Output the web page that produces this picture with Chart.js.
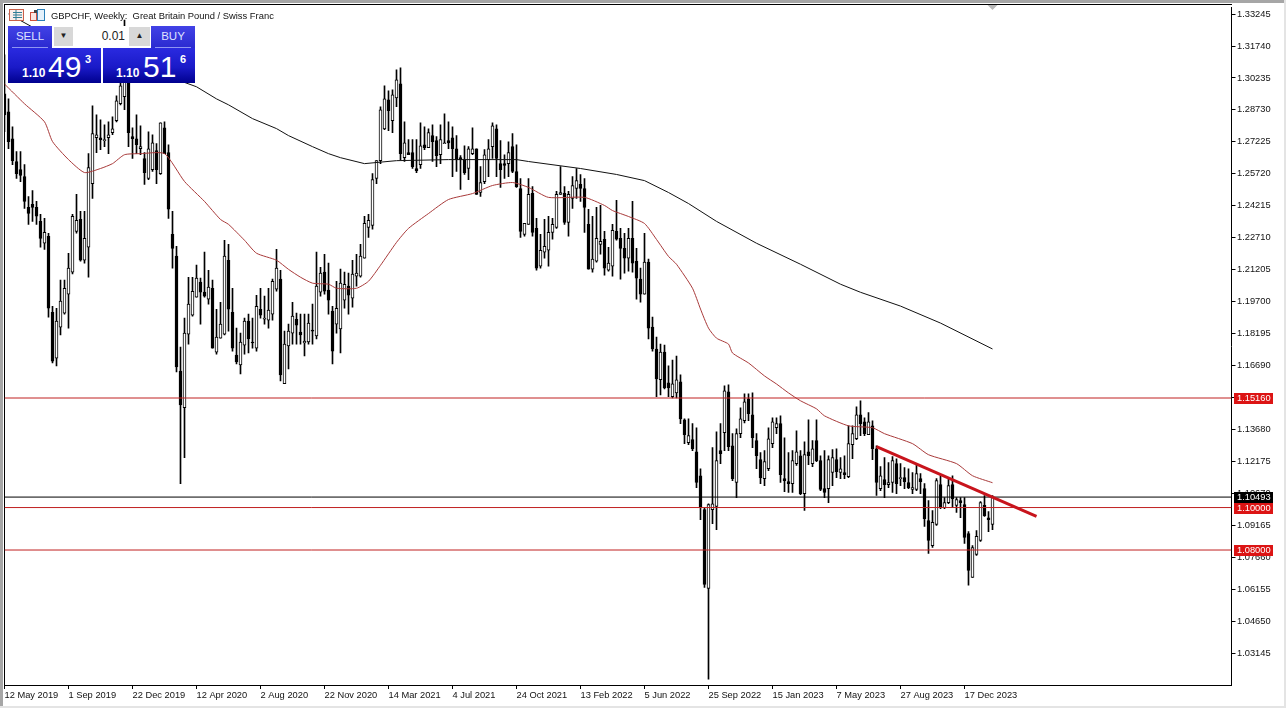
<!DOCTYPE html>
<html><head><meta charset="utf-8">
<script src="https://cdn.jsdelivr.net/npm/chart.js@4"></script>
<style>
html,body{margin:0;padding:0;background:#fff;overflow:hidden}
#wrap{position:relative;width:1286px;height:708px;font-family:"Liberation Sans",sans-serif}
canvas{position:absolute;left:0;top:0}
.a{position:absolute;white-space:pre;line-height:1}
.tb{background:linear-gradient(#4242e6,#2a2ad0);color:#dfe2ff}
.pb{background:linear-gradient(#2a2ae0 0%,#1a1ac8 55%,#00008e 100%);color:#fff}
</style></head><body>
<div id="wrap">
<canvas id="c" width="1286" height="708"></canvas>
<svg class="a" style="left:9px;top:9px" width="38" height="13" viewBox="0 0 38 13">
<rect x="0.5" y="0.5" width="14" height="11" fill="#fbeeea" stroke="#c8604a"/>
<path d="M4 3.5H13M4 6H13M4 8.5H13M7 1V11" stroke="#2e7f96" stroke-width="1"/>
<rect x="21.5" y="3.5" width="6" height="8" fill="#fbe5e0" stroke="#d0503c"/>
<rect x="28.5" y="0.5" width="7" height="11" fill="#e4f1fb" stroke="#2b7fb8"/>
<rect x="25" y="1" width="3" height="3" fill="#444"/>
</svg>
<div class="a" id="title" style="left:51px;top:10.5px;font-size:9.4px;color:#111">GBPCHF, Weekly:  Great Britain Pound / Swiss Franc</div>

<div class="a" style="left:8px;top:26px;width:187px;height:57px;background:#fff"></div>
<div class="a tb" style="left:8px;top:26px;width:44px;height:22px;text-align:center;line-height:21px;font-size:11.5px">SELL</div>
<div class="a tb" style="left:151px;top:26px;width:44px;height:22px;text-align:center;line-height:21px;font-size:11.5px">BUY</div>
<div class="a" style="left:12px;top:47px;width:36px;height:1px;background:#8f95f2"></div>
<div class="a" style="left:155px;top:47px;width:36px;height:1px;background:#8f95f2"></div>
<div class="a" style="left:54px;top:27px;width:19px;height:19px;background:#d8d8d8;color:#222;font-size:8px;text-align:center;line-height:18px">▼</div>
<div class="a" style="left:129px;top:27px;width:21px;height:19px;background:#d8d8d8;color:#222;font-size:8px;text-align:center;line-height:18px">▲</div>
<div class="a" style="left:73px;top:27px;width:52px;height:19px;text-align:right;line-height:19px;font-size:12px;color:#222">0.01</div>
<div class="a pb" style="left:8px;top:48px;width:93px;height:35px"></div>
<div class="a pb" style="left:103px;top:48px;width:92px;height:35px"></div>
<div class="a" style="left:22px;top:67px;font-size:12px;font-weight:bold;color:#fff">1.10</div>
<div class="a" style="left:48px;top:52px;font-size:30px;color:#fff">49</div>
<div class="a" style="left:85px;top:54px;font-size:11px;font-weight:bold;color:#fff">3</div>
<div class="a" style="left:116px;top:67px;font-size:12px;font-weight:bold;color:#fff">1.10</div>
<div class="a" style="left:143px;top:52px;font-size:30px;color:#fff">51</div>
<div class="a" style="left:180px;top:54px;font-size:11px;font-weight:bold;color:#fff">6</div>
</div>
<script>
const dateLabels=["12 May 2019","1 Sep 2019","22 Dec 2019","12 Apr 2020","2 Aug 2020","22 Nov 2020","14 Mar 2021","4 Jul 2021","24 Oct 2021","13 Feb 2022","5 Jun 2022","25 Sep 2022","15 Jan 2023","7 May 2023","27 Aug 2023","17 Dec 2023"];
const dateTickEvery=16;
const priceTicks=[1.33245,1.31740,1.30235,1.28730,1.27225,1.25720,1.24215,1.22710,1.21205,1.19700,1.18195,1.16690,1.15185,1.13680,1.12175,1.10670,1.09165,1.07660,1.06155,1.04650,1.03145];
const levels=[1.15160,1.10000,1.08000];
const currentPrice=1.10493;
const bullish=[0,0,0,0,0,0,0,0,0,0,
1,0,0,1,1,1,1,1,1,0,
1,1,1,1,0,1,1,1,1,1,
1,0,0,0,1,0,1,1,0,1,
0,0,0,0,0,1,1,1,1,0,
0,1,0,1,1,1,0,0,0,1,
1,0,0,1,0,1,1,1,1,0,
1,1,1,0,0,1,1,0,1,1,
0,0,0,1,1,1,0,1,1,1,
1,1,1,1,1,1,0,1,1,0,
1,0,0,0,1,0,1,0,0,1,
1,0,0,0,0,0,1,1,0,1,
1,1,1,0,0,0,1,0,0,0,
1,1,0,0,1,1,1,1,1,1,
0,1,1,1,0,0,0,1,1,1,
0,1,1,0,0,0,1,0,0,0,
1,0,0,0,1,0,0,1,1,0,
0,1,0,0,0,0,1,1,1,0,
1,0,0,1,1,1,0,0,0,0,
1,1,1,1,0,0,0,1,1,0,
1,0,1,0,0,0,1,1,0,1,
0,1,1,1,0,0,1,0,0,1,
0,1,1,0,1,0,0,1,1,0,
0,0,1,1,0,1,1,0,1,0,
0,0,1,1,1,0,0,1];
const highs=[1.3132,1.2925,1.2793,1.2677,1.2677,1.2615,1.2465,1.2493,1.2442,1.2381,
1.2362,1.2292,1.1948,1.1939,1.2071,1.2071,1.2198,1.2381,1.2475,1.2395,
1.2395,1.2667,1.2892,1.2850,1.2826,1.2803,1.2817,1.2841,1.2939,1.3005,
1.3296,1.3099,1.2789,1.2850,1.2798,1.2672,1.2770,1.2756,1.2714,1.2812,
1.2817,1.2709,1.2395,1.2231,1.1756,1.1892,1.2085,1.2085,1.2142,1.2081,
1.2203,1.2118,1.2071,1.1934,1.1967,1.2259,1.2240,1.2033,1.1845,1.1822,
1.1892,1.1911,1.1892,1.2000,1.2033,1.1996,1.2033,1.2076,1.2216,1.2118,
1.1831,1.1864,1.1967,1.1916,1.1911,1.1911,1.1911,1.1958,1.2203,1.2132,
1.2193,1.2151,1.1948,1.2066,1.2123,1.2109,1.2104,1.2165,1.2193,1.2240,
1.2372,1.2381,1.2573,1.2634,1.2888,1.2986,1.2963,1.2968,1.3062,1.3071,
1.2817,1.2733,1.2733,1.2733,1.2812,1.2793,1.2784,1.2803,1.2747,1.2803,
1.2855,1.2817,1.2793,1.2752,1.2658,1.2704,1.2700,1.2789,1.2690,1.2606,
1.2686,1.2733,1.2812,1.2803,1.2728,1.2662,1.2723,1.2761,1.2709,1.2550,
1.2339,1.2550,1.2512,1.2362,1.2287,1.2358,1.2372,1.2362,1.2489,1.2606,
1.2512,1.2489,1.2559,1.2597,1.2569,1.2550,1.2405,1.2372,1.2414,1.2423,
1.2301,1.2226,1.2334,1.2447,1.2315,1.2292,1.2315,1.2442,1.2221,1.2128,
1.2292,1.2170,1.1897,1.1803,1.1770,1.1765,1.1667,1.1695,1.1714,1.1625,
1.1418,1.1418,1.1395,1.1376,1.1183,1.0999,1.1018,1.1282,1.1357,1.1395,
1.1573,1.1578,1.1348,1.1371,1.1470,1.1536,1.1536,1.1540,1.1348,1.1259,
1.1268,1.1376,1.1423,1.1423,1.1432,1.1329,1.1259,1.1268,1.1362,1.1268,
1.1310,1.1413,1.1315,1.1413,1.1244,1.1268,1.1244,1.1273,1.1277,1.1235,
1.1244,1.1385,1.1385,1.1475,1.1503,1.1423,1.1447,1.1409,1.1291,1.1193,
1.1235,1.1212,1.1240,1.1230,1.1207,1.1188,1.1183,1.1165,1.1207,1.1160,
1.1113,1.1033,1.0986,1.1136,1.1150,1.1047,1.1141,1.1150,1.1047,1.1047,
1.1047,1.0887,1.0821,1.0892,1.1028,1.1057,1.0981,1.1057];
const bodyTops=[1.2949,1.2864,1.2737,1.2630,1.2592,1.2559,1.2414,1.2428,1.2414,1.2348,
1.2296,1.2278,1.1920,1.1878,1.1972,1.2033,1.2128,1.2372,1.2353,1.2358,
1.2268,1.2601,1.2761,1.2756,1.2742,1.2733,1.2756,1.2784,1.2916,1.2986,
1.3099,1.3005,1.2747,1.2737,1.2700,1.2644,1.2690,1.2718,1.2681,1.2812,
1.2789,1.2672,1.2287,1.2184,1.1643,1.1822,1.1958,1.2019,1.2081,1.2062,
1.2015,1.2038,1.2033,1.1803,1.1864,1.2184,1.2165,1.1920,1.1718,1.1780,
1.1878,1.1878,1.1780,1.1948,1.1934,1.1892,1.1930,1.2066,1.2128,1.2076,
1.1770,1.1831,1.1902,1.1887,1.1827,1.1784,1.1869,1.1836,1.2043,1.2104,
1.2109,1.2024,1.1925,1.1939,1.2057,1.2052,1.2043,1.2100,1.2104,1.2184,
1.2339,1.2353,1.2545,1.2634,1.2874,1.2925,1.2921,1.2944,1.3015,1.2996,
1.2718,1.2672,1.2672,1.2597,1.2704,1.2709,1.2766,1.2752,1.2728,1.2733,
1.2718,1.2728,1.2742,1.2690,1.2648,1.2639,1.2690,1.2690,1.2690,1.2531,
1.2662,1.2690,1.2798,1.2784,1.2620,1.2620,1.2672,1.2700,1.2583,1.2503,
1.2339,1.2475,1.2480,1.2315,1.2212,1.2231,1.2296,1.2334,1.2475,1.2484,
1.2480,1.2475,1.2517,1.2540,1.2522,1.2503,1.2334,1.2170,1.2268,1.2254,
1.2264,1.2151,1.2306,1.2301,1.2268,1.2221,1.2268,1.2268,1.2160,1.2076,
1.2156,1.2156,1.1850,1.1747,1.1732,1.1732,1.1587,1.1583,1.1602,1.1592,
1.1413,1.1339,1.1320,1.1263,1.1150,1.0990,1.1014,1.1018,1.1221,1.1268,
1.1550,1.1545,1.1291,1.1348,1.1418,1.1498,1.1512,1.1437,1.1315,1.1226,
1.1216,1.1324,1.1404,1.1395,1.1395,1.1136,1.1122,1.1221,1.1263,1.1244,
1.1249,1.1263,1.1277,1.1315,1.1221,1.1089,1.1226,1.1235,1.1226,1.1183,
1.1165,1.1301,1.1348,1.1437,1.1437,1.1404,1.1404,1.1385,1.1277,1.1150,
1.1132,1.1118,1.1221,1.1207,1.1141,1.1141,1.1118,1.1094,1.1160,1.1136,
1.1089,1.0939,1.0930,1.1127,1.1108,1.1023,1.1103,1.1108,1.1038,1.1033,
1.1014,1.0878,1.0812,1.0864,1.1023,1.1010,1.0952,1.1049];
const bodyBottoms=[1.2850,1.2723,1.2634,1.2573,1.2564,1.2442,1.2386,1.2414,1.2372,1.2268,
1.2245,1.1939,1.1690,1.1704,1.1850,1.1916,1.2005,1.2109,1.2301,1.2165,
1.2165,1.2226,1.2526,1.2742,1.2733,1.2728,1.2742,1.2766,1.2822,1.2902,
1.2935,1.2766,1.2737,1.2709,1.2690,1.2578,1.2550,1.2592,1.2592,1.2573,
1.2667,1.2405,1.2221,1.1662,1.1484,1.1470,1.1817,1.1906,1.1991,1.2015,
1.1996,1.1981,1.1751,1.1732,1.1798,1.1817,1.1934,1.1751,1.1686,1.1672,
1.1765,1.1794,1.1775,1.1751,1.1906,1.1887,1.1883,1.1911,1.2029,1.1625,
1.1583,1.1761,1.1822,1.1859,1.1813,1.1775,1.1780,1.1831,1.1808,1.2015,
1.2019,1.1977,1.1737,1.1864,1.1841,1.1977,1.2000,1.1986,1.2090,1.2090,
1.2175,1.2320,1.2329,1.2550,1.2634,1.2784,1.2869,1.2822,1.2930,1.2667,
1.2648,1.2662,1.2606,1.2587,1.2615,1.2695,1.2695,1.2723,1.2658,1.2662,
1.2714,1.2718,1.2690,1.2639,1.2639,1.2578,1.2597,1.2667,1.2475,1.2484,
1.2535,1.2639,1.2700,1.2644,1.2592,1.2611,1.2620,1.2583,1.2512,1.2301,
1.2287,1.2334,1.2296,1.2128,1.2137,1.2203,1.2212,1.2296,1.2320,1.2475,
1.2343,1.2343,1.2456,1.2503,1.2503,1.2414,1.2123,1.2123,1.2160,1.2240,
1.2128,1.2118,1.2137,1.2264,1.2221,1.2175,1.2175,1.2151,1.2081,1.2005,
1.2005,1.1845,1.1747,1.1606,1.1602,1.1564,1.1564,1.1522,1.1540,1.1418,
1.1343,1.1306,1.1277,1.1118,1.0999,1.0638,1.0619,1.0990,1.1005,1.1254,
1.1353,1.1287,1.1136,1.1118,1.1348,1.1409,1.1442,1.1329,1.1244,1.1141,
1.1136,1.1183,1.1301,1.1376,1.1155,1.1127,1.1113,1.1113,1.1207,1.1066,
1.1066,1.1244,1.1207,1.1221,1.1085,1.1071,1.1089,1.1165,1.1169,1.1165,
1.1155,1.1146,1.1296,1.1324,1.1395,1.1348,1.1343,1.1277,1.1118,1.1089,
1.1108,1.1108,1.1118,1.1113,1.1136,1.1122,1.1094,1.1085,1.1085,1.1122,
1.0948,1.0845,1.0821,1.0920,1.0999,1.0999,1.1023,1.1042,1.1010,1.1023,
1.0859,1.0704,1.0671,1.0779,1.0845,1.0962,1.0943,1.0920];
const lows=[1.2770,1.2690,1.2615,1.2550,1.2535,1.2409,1.2334,1.2348,1.2334,1.2226,
1.2216,1.1897,1.1681,1.1667,1.1813,1.1911,1.1845,1.2100,1.2292,1.2160,
1.2151,1.2085,1.2456,1.2672,1.2686,1.2700,1.2667,1.2756,1.2817,1.2897,
1.2874,1.2700,1.2644,1.2667,1.2662,1.2522,1.2545,1.2583,1.2526,1.2569,
1.2667,1.2362,1.2128,1.1639,1.1113,1.1235,1.1770,1.1902,1.1991,1.1864,
1.1991,1.1958,1.1751,1.1723,1.1798,1.1813,1.1831,1.1737,1.1676,1.1630,
1.1723,1.1728,1.1751,1.1737,1.1892,1.1864,1.1845,1.1883,1.2019,1.1597,
1.1583,1.1653,1.1770,1.1770,1.1770,1.1714,1.1770,1.1770,1.1794,1.1996,
1.2005,1.1911,1.1676,1.1822,1.1728,1.1939,1.1911,1.1944,1.2043,1.2085,
1.2175,1.2273,1.2311,1.2526,1.2620,1.2780,1.2775,1.2766,1.2888,1.2639,
1.2630,1.2662,1.2597,1.2578,1.2597,1.2686,1.2695,1.2630,1.2606,1.2620,
1.2714,1.2690,1.2559,1.2583,1.2498,1.2569,1.2545,1.2662,1.2475,1.2465,
1.2526,1.2559,1.2644,1.2559,1.2508,1.2550,1.2559,1.2578,1.2508,1.2273,
1.2278,1.2334,1.2278,1.2118,1.2128,1.2175,1.2137,1.2264,1.2315,1.2475,
1.2334,1.2278,1.2409,1.2456,1.2442,1.2296,1.2123,1.2109,1.2156,1.2193,
1.2095,1.2113,1.2090,1.2259,1.2076,1.2104,1.2113,1.2109,1.1981,1.1967,
1.2005,1.1794,1.1737,1.1522,1.1531,1.1559,1.1522,1.1517,1.1517,1.1395,
1.1301,1.1296,1.1268,1.1094,1.0943,1.0624,1.0192,1.0924,1.0896,1.1207,
1.1268,1.1268,1.1127,1.1047,1.1329,1.1399,1.1409,1.1282,1.1183,1.1113,
1.1103,1.1174,1.1282,1.1348,1.1118,1.1075,1.1071,1.1071,1.1198,1.1061,
1.0986,1.1202,1.1193,1.1216,1.1080,1.1047,1.1023,1.1103,1.1141,1.1136,
1.1136,1.1141,1.1230,1.1320,1.1339,1.1339,1.1343,1.1226,1.1057,1.1080,
1.1047,1.1094,1.1071,1.1066,1.1103,1.1089,1.1089,1.1066,1.1080,1.1066,
1.0911,1.0784,1.0812,1.0916,1.0995,1.0995,1.1018,1.0999,1.0977,1.0952,
1.0831,1.0634,1.0671,1.0775,1.0840,1.0958,1.0887,1.0896];
const fastMaBars=[0,5,10,12,16,20,24,27,30,34,40,45,50,54,56,60,63,68,71,74,77,81,83,88,91,94,98,101,106,111,117,122,127,131,136,145,150,152,156,160,163,166,168,172,174,176,178,181,182,186,190,193,196,199,203,205,211,217,220,227,231,238,242,247];
const fastMaValues=[1.2995,1.2902,1.2817,1.2724,1.2639,1.2578,1.2597,1.2620,1.2662,1.2667,1.2667,1.2536,1.2442,1.2357,1.2334,1.2259,1.2198,1.2165,1.2122,1.2085,1.2057,1.2052,1.2033,1.2033,1.2066,1.2141,1.2249,1.2315,1.2385,1.2451,1.2479,1.2517,1.2531,1.2508,1.2461,1.2461,1.2423,1.2399,1.2371,1.2338,1.2263,1.2183,1.2146,1.2033,1.1935,1.1845,1.1798,1.1770,1.1728,1.1681,1.1620,1.1582,1.1540,1.1503,1.1465,1.1432,1.1385,1.1376,1.1348,1.1301,1.1249,1.1207,1.1150,1.1117];
const slowMaBars=[1,7,48,53,56,62,68,71,77,81,84,90,98,111,128,131,144,153,160,166,171,178,188,199,209,214,224,234,247];
const slowMaValues=[1.3325,1.3263,1.2982,1.2925,1.2897,1.2832,1.2785,1.2752,1.2700,1.2667,1.2648,1.2620,1.2634,1.2639,1.2639,1.2630,1.2597,1.2569,1.2540,1.2484,1.2432,1.2348,1.2245,1.2146,1.2052,1.2014,1.1949,1.1869,1.1747];
const trendBars=[218,258];
const trendValues=[1.1287,1.0958];

const xMax=306.75;
const pair=(xs,ys)=>xs.map((x,i)=>({x,y:ys[i]}));
const wicks=highs.map((h,i)=>({x:i,y:[lows[i],h]}));
const bodies=highs.map((h,i)=>({x:i,y:bullish[i]?[bodyBottoms[i],bodyTops[i]]:[bodyTops[i],bodyBottoms[i]]}));
const hLine=(v,color,order)=>({type:'line',data:[{x:0,y:v},{x:xMax,y:v}],borderColor:color,borderWidth:1,pointRadius:0,order});
const labelFont='9.3px "Liberation Sans"';

const decor={id:'decor',
 beforeDraw(ch){const g=ch.ctx;g.save();g.fillStyle='#fff';g.fillRect(0,0,1286,708);
  g.fillStyle='#a6a6a6';g.fillRect(0,0,1286,3);g.fillRect(0,0,3,708);
  g.fillStyle='#e4e4e4';g.fillRect(0,706,1286,2);g.fillRect(1284,0,2,708);
  g.fillStyle='#000';g.fillRect(4,4,1228,1);g.fillRect(4,4,1,682);g.restore();},
 afterDraw(ch){const g=ch.ctx,y=ch.scales.y;g.save();
  const xm=ch.scales.x.getPixelForValue(247);
  g.fillStyle='#b8b8b8';g.beginPath();g.moveTo(xm-5,5);g.lineTo(xm+5,5);g.lineTo(xm,10);g.closePath();g.fill();
  g.font=labelFont;g.textBaseline='middle';g.textAlign='left';
  const tag=(v,bg)=>{const p=Math.round(y.getPixelForValue(v));g.fillStyle=bg;g.fillRect(1234,p-5,39,11);g.fillStyle='#fff';g.fillText(v.toFixed(5),1237,p+0.5);};
  tag(levels[0],'#dc1414');tag(levels[2],'#dc1414');
  tag(currentPrice,'#000');
  tag(levels[1],'#dc1414');
  g.restore();}};

new Chart(document.getElementById('c'),{
 type:'bar',
 plugins:[decor],
 data:{datasets:[
  {type:'line',data:pair(trendBars,trendValues),borderColor:'#c8141c',borderWidth:3,pointRadius:0,order:1},
  hLine(currentPrice,'#000',2),
  hLine(levels[0],'#c02020',2),hLine(levels[1],'#c02020',2),hLine(levels[2],'#c02020',2),
  {type:'line',data:pair(fastMaBars,fastMaValues),borderColor:'#a83a3a',borderWidth:1,pointRadius:0,tension:0.2,order:3},
  {type:'line',data:pair(slowMaBars,slowMaValues),borderColor:'#111',borderWidth:1,pointRadius:0,order:3},
  {type:'bar',data:bodies,barThickness:3,grouped:false,borderWidth:1,borderColor:'#000',borderSkipped:false,
   backgroundColor:bullish.map(u=>u?'#fff':'#000'),order:4},
  {type:'bar',data:wicks,barThickness:1,grouped:false,backgroundColor:'#000',borderWidth:0,order:5}
 ]},
 options:{responsive:false,animation:false,devicePixelRatio:1,
  layout:{padding:{left:4.5,top:5,right:0,bottom:0}},
  plugins:{legend:{display:false},tooltip:{enabled:false}},
  scales:{
   x:{type:'linear',min:0,max:xMax,offset:false,
    grid:{drawOnChartArea:false,offset:false,color:'#000',tickLength:4},
    border:{display:true,color:'#000'},
    afterBuildTicks:s=>{s.ticks=dateLabels.map((_,i)=>({value:i*dateTickEvery}));},
    afterFit:s=>{s.height=23;},
    ticks:{autoSkip:false,maxRotation:0,minRotation:0,align:'start',padding:1,color:'#111',
     font:{family:'"Liberation Sans"',size:9.3},callback:v=>dateLabels[v/dateTickEvery]}},
   y:{type:'linear',position:'right',min:1.01642,max:1.33574,
    grid:{drawOnChartArea:false,color:'#000',tickLength:4},
    border:{display:true,color:'#000'},
    afterBuildTicks:s=>{s.ticks=priceTicks.map(value=>({value}));},
    afterFit:s=>{s.width=54.5;},
    ticks:{autoSkip:false,padding:1.5,color:'#111',font:{family:'"Liberation Sans"',size:9.3},callback:v=>v.toFixed(5)}}
  }}
});
</script>
</body></html>
